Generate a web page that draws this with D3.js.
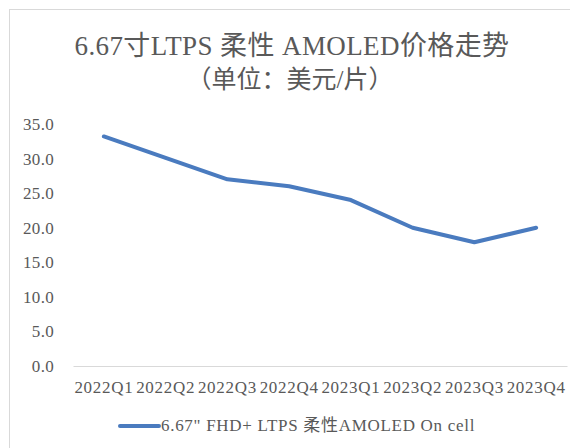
<!DOCTYPE html>
<html><head><meta charset="utf-8">
<script src="https://cdn.jsdelivr.net/npm/d3@7"></script>
<style>body{margin:0;background:#fff;} svg{display:block;}</style>
</head><body>
<svg id="c" width="570" height="448"></svg>
<script>
const categories = ["2022Q1","2022Q2","2022Q3","2022Q4","2023Q1","2023Q2","2023Q3","2023Q4"];
const values = [33.2, 30.1, 27.0, 26.0, 24.0, 20.0, 17.9, 20.0];
const yTicks = [0,5,10,15,20,25,30,35];
const seriesName = "6.67\" FHD+ LTPS 柔性AMOLED On cell";
const titleLines = ["6.67寸LTPS 柔性 AMOLED价格走势", "（单位：美元/片）"];

const svg = d3.select("#c");
const serif = "'Liberation Serif','Times New Roman','Noto Sans CJK SC',serif";
const txt = "#595959";
const blue = "#4a7bbf";

svg.append("rect").attr("x",9.5).attr("y",9.5).attr("width",700).attr("height",600)
  .attr("fill","none").attr("stroke","#d9d9d9");

const x = d3.scaleBand().domain(categories).range([73,567]);
const y = d3.scaleLinear().domain([0,35]).range([366,124]);

svg.append("text").attr("x",292).attr("y",55).attr("text-anchor","middle")
  .attr("font-family",serif).attr("font-size",27).attr("letter-spacing",0.4).attr("fill",txt).text(titleLines[0]);
svg.append("text").attr("x",290).attr("y",88).attr("text-anchor","middle")
  .attr("font-family",serif).attr("font-size",25).attr("fill",txt).text(titleLines[1]);

const ya = svg.append("g").attr("transform","translate(54,0)")
  .call(d3.axisLeft(y).tickValues(yTicks).tickFormat(d3.format(".1f")).tickSize(0).tickPadding(0));
ya.select(".domain").remove();
ya.selectAll("text").attr("font-family",serif).attr("font-size",17).attr("letter-spacing",0.3).attr("fill",txt);

const xa = svg.append("g").attr("transform","translate(0,366)")
  .call(d3.axisBottom(x).tickSize(0).tickPadding(15));
xa.select(".domain").attr("stroke","#d9d9d9");
xa.selectAll("text").attr("font-family",serif).attr("font-size",17).attr("letter-spacing",0.7).attr("fill",txt);

const line = d3.line().x((d,i)=>x(categories[i])+x.bandwidth()/2).y(d=>y(d));
svg.append("path").datum(values).attr("d",line).attr("fill","none")
  .attr("stroke",blue).attr("stroke-width",4).attr("stroke-linejoin","round").attr("stroke-linecap","round");

svg.append("line").attr("x1",120).attr("x2",159).attr("y1",426).attr("y2",426)
  .attr("stroke",blue).attr("stroke-width",4).attr("stroke-linecap","round");
svg.append("text").attr("x",161).attr("y",431).attr("font-family",serif).attr("font-size",17)
  .attr("letter-spacing",0.7).attr("fill",txt).text(seriesName);
</script>
</body></html>
